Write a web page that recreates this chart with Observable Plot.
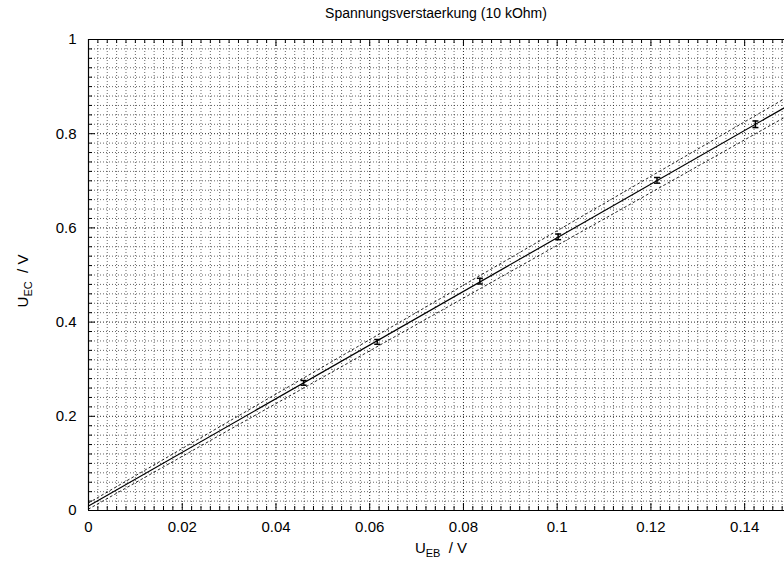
<!DOCTYPE html>
<html><head><meta charset="utf-8">
<script src="https://cdn.jsdelivr.net/npm/d3@7"></script>
<script src="https://cdn.jsdelivr.net/npm/@observablehq/plot@0.6"></script>
<style>body{margin:0;background:#fff;} svg{display:block;}</style>
</head><body><div id="chart"></div>
<script>
const title = "Spannungsverstaerkung (10 kOhm)";
const uEB = [0.0459, 0.0616, 0.0835, 0.1002, 0.1213, 0.1423];
const uEC = [0.271, 0.358, 0.487, 0.581, 0.701, 0.820];
const uECErr = [0.005, 0.005, 0.006, 0.006, 0.006, 0.007];
const fitNames = ["fit", "upper", "lower"];
const fitIntercepts = [0.0096, 0.016, 0.003];
const fitSlopes = [5.695, 5.78, 5.60];
const xMajorTicks = [0, 0.02, 0.04, 0.06, 0.08, 0.1, 0.12, 0.14];
const yMajorTicks = [0, 0.2, 0.4, 0.6, 0.8, 1];
const xDomain = [0, 0.1485];
const yDomain = [0, 1];

const W = 784, H = 563, mL = 88, mR = 0, mT = 39, mB = 53;
const xPerPx = (xDomain[1] - xDomain[0]) / (W - mL - mR);
const yPerPx = (yDomain[1] - yDomain[0]) / (H - mT - mB);

const xMinor = d3.range(0, 75).map(i => +(i * 0.002).toFixed(4)).filter(v => v <= xDomain[1]);
const yMinor = d3.range(0, 51).map(i => +(i * 0.02).toFixed(4));
const xMinorOnly = xMinor.filter(v => !xMajorTicks.some(t => Math.abs(t - v) < 1e-9));
const yMinorOnly = yMinor.filter(v => !yMajorTicks.some(t => Math.abs(t - v) < 1e-9));

const points = uEB.map((x, i) => ({x, y: uEC[i], e: uECErr[i]}));
const lines = fitNames.flatMap((name, i) => xDomain.map(x => ({name, x, y: fitIntercepts[i] + fitSlopes[i] * x})));

const hbar = {draw(ctx, size) { const r = Math.sqrt(size / Math.PI); ctx.moveTo(-r, 0); ctx.lineTo(r, 0); }};
const fmt = d => String(+(+d).toFixed(3));

const minorLen = 4, majorLen = 7;

const plot = Plot.plot({
  width: W, height: H,
  marginLeft: mL, marginRight: mR, marginTop: mT, marginBottom: mB,
  style: {fontFamily: "'Liberation Sans', Arial, sans-serif", fontSize: "15px", color: "#000", background: "#fff"},
  x: {domain: xDomain, ticks: xMajorTicks, tickFormat: fmt, tickSize: 0, tickPadding: 11, label: null},
  y: {domain: yDomain, ticks: yMajorTicks, tickFormat: fmt, tickSize: 0, tickPadding: 12, label: null},
  marks: [
    // grid
    Plot.ruleX(xMinorOnly, {stroke: "#000", strokeOpacity: 0.6, strokeDasharray: "1,2"}),
    Plot.ruleY(yMinorOnly, {stroke: "#000", strokeOpacity: 0.6, strokeDasharray: "1,2"}),
    Plot.ruleX(xMajorTicks, {stroke: "#000", strokeOpacity: 0.85, strokeDasharray: "1,2"}),
    Plot.ruleY(yMajorTicks, {stroke: "#000", strokeOpacity: 0.85, strokeDasharray: "1,2"}),
    // inward ticks
    Plot.ruleX(xMinorOnly, {y1: 0, y2: minorLen * yPerPx, stroke: "#000"}),
    Plot.ruleX(xMinorOnly, {y1: 1 - minorLen * yPerPx, y2: 1, stroke: "#000"}),
    Plot.ruleX(xMajorTicks, {y1: 0, y2: majorLen * yPerPx, stroke: "#000"}),
    Plot.ruleX(xMajorTicks, {y1: 1 - majorLen * yPerPx, y2: 1, stroke: "#000"}),
    Plot.ruleY(yMinorOnly, {x1: 0, x2: minorLen * xPerPx, stroke: "#000"}),
    Plot.ruleY(yMajorTicks, {x1: 0, x2: majorLen * xPerPx, stroke: "#000"}),
    // fit lines
    Plot.line(lines.filter(d => d.name !== "fit"), {x: "x", y: "y", z: "name", stroke: "#000", strokeWidth: 1, strokeDasharray: "2,3", strokeOpacity: 0.85}),
    Plot.line(lines.filter(d => d.name === "fit"), {x: "x", y: "y", stroke: "#000", strokeWidth: 1.2}),
    // error bars
    Plot.ruleX(points, {x: "x", y1: d => d.y - d.e, y2: d => d.y + d.e, stroke: "#000", strokeWidth: 1.5}),
    Plot.dot(points, {x: "x", y: d => d.y + d.e, symbol: hbar, r: 3, stroke: "#000", fill: "none", strokeWidth: 1.5}),
    Plot.dot(points, {x: "x", y: d => d.y - d.e, symbol: hbar, r: 3, stroke: "#000", fill: "none", strokeWidth: 1.5}),
    // frame
    Plot.ruleY([0, 1], {stroke: "#000", strokeWidth: 1.2}),
    Plot.ruleX([0], {stroke: "#000", strokeWidth: 1.2})
  ]
});

const svg = d3.select(plot);
svg.append("text").attr("x", 436).attr("y", 18).attr("text-anchor", "middle")
  .attr("font-size", 14).attr("fill", "#000").text(title);

const xl = svg.append("text").attr("x", 441).attr("y", 553).attr("text-anchor", "middle")
  .attr("font-size", 15).attr("fill", "#000").attr("xml:space", "preserve");
xl.append("tspan").text("U");
xl.append("tspan").attr("font-size", 11).attr("dy", 4).text("EB");
xl.append("tspan").attr("dy", -4).text("  / V");

const yl = svg.append("text").attr("transform", "translate(28,281) rotate(-90)").attr("text-anchor", "middle")
  .attr("font-size", 15).attr("fill", "#000").attr("xml:space", "preserve");
yl.append("tspan").text("U");
yl.append("tspan").attr("font-size", 11).attr("dy", 4).text("EC");
yl.append("tspan").attr("dy", -4).text("  / V");

document.getElementById("chart").appendChild(plot);
</script>
</body></html>
